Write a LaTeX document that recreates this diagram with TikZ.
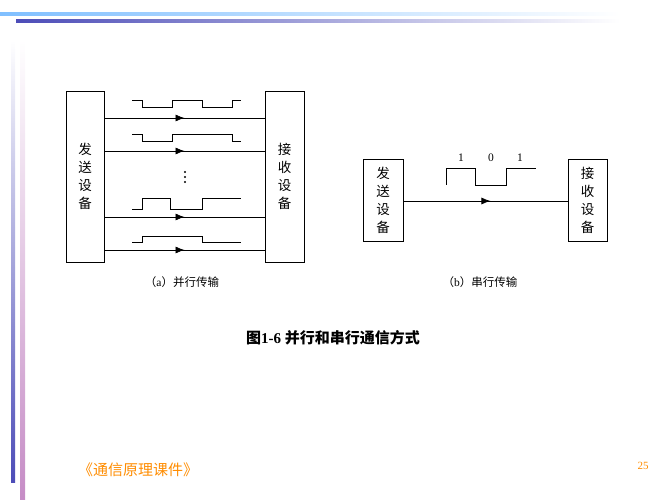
\documentclass[tikz,border=0pt]{standalone}
\usepackage{fontspec}
\setmainfont{Liberation Serif}
\newfontfamily\cjk{Noto Sans CJK SC}
\usetikzlibrary{decorations.markings,arrows.meta}
\tikzset{
 box/.style={draw,line width=0.8pt,inner sep=0pt,font=\cjk\fontsize{13.5}{18}\selectfont,align=center},
 wire/.style={line width=0.7pt,postaction=decorate,decoration={markings,mark=at position #1 with {\arrow{Latex[length=9pt,width=7pt]}}}},
 wave/.style={line width=0.9pt},
 lab/.style={font=\fontsize{11.5}{12}\selectfont}
}
\begin{document}
\begin{tikzpicture}[x=1pt,y=-1pt]
\useasboundingbox (0,0) rectangle (667,500);
% decoration bars
\shade[left color=cyan!50!blue!50,right color=white] (0,12.5) rectangle (620,15.5);
\shade[left color=blue!60!black!70,right color=white] (16,19.5) rectangle (620,22.5);
\shade[top color=white,bottom color=blue!60!black!70] (11,40) rectangle (15,482);
\shade[top color=white,bottom color=violet!45] (20,40) rectangle (25,500);
% left diagram
\node[box,minimum width=38pt,minimum height=171pt] (ls) at (85,176.5) {发\\送\\设\\备};
\node[box,minimum width=39pt,minimum height=171pt] (lr) at (284.5,176.5) {接\\收\\设\\备};
\foreach \y/\n in {118/a,151/b,217/c,250/d}{
 \coordinate (s\n) at (ls.east |- 0,\y);
 \coordinate (r\n) at (lr.west |- 0,\y);
 \draw[wire=0.5] (s\n) -- (r\n);
}
\draw[wave] (132,100)--(142,100)--(142,107)--(172,107)--(172,100)--(202,100)--(202,107)--(232,107)--(232,100)--(241,100);
\draw[wave] (132,134)--(142,134)--(142,141)--(172,141)--(172,134)--(232,134)--(232,141)--(241,141);
\draw[wave] (132,209)--(142,209)--(142,198)--(170,198)--(170,209)--(202,209)--(202,198)--(241,198);
\draw[wave] (132,242)--(142,242)--(142,236)--(202,236)--(202,242)--(241,242);
\foreach \y in {172,177,182} \fill (185,\y) circle (1.2pt);
\node[lab] (ca) at (182,282) {{\cjk （}a{\cjk ）并行传输}};
% right diagram
\node[box,minimum width=40pt,minimum height=82pt] (rs) at (383,200) {发\\送\\设\\备};
\node[box,minimum width=39pt,minimum height=82pt] (rr) at (587.5,200) {接\\收\\设\\备};
\draw[wire=0.53] (rs.east |- 0,201) -- (rr.west |- 0,201);
\draw[wave] (446,185)--(446,168)--(475,168)--(475,185)--(506,185)--(506,168)--(536,168);
\node[lab] (b1) at (461,158) {1};
\node[lab] (b2) at (491,158) {0};
\node[lab] (b3) at (520,158) {1};
\node[lab] (cb) at (480,282) {{\cjk （}b{\cjk ）串行传输}};
% title & footer
\node[font=\fontsize{15}{16}\selectfont\bfseries] (title) at (333,338) {{\cjk\bfseries 图}1-6 {\cjk\bfseries 并行和串行通信方式}};
\node[font=\cjk\fontsize{15}{16}\selectfont,text=orange!90!yellow] (foot) at (138,470) {《通信原理课件》};
\node[font=\fontsize{11}{12}\selectfont,text=orange!90!yellow] (pg) at (643,466) {25};
\end{tikzpicture}
\end{document}
